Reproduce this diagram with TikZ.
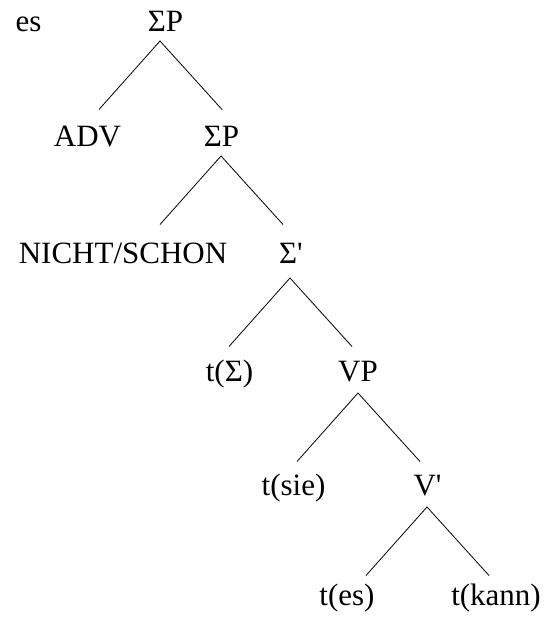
\documentclass[tikz,border=0pt]{standalone}
\usepackage{fontspec}
\setmainfont{LiberationSerif-Regular.ttf}[Ligatures=NoCommon]
\tikzset{
    cat/.style={inner sep=0pt, anchor=base, font=\rmfamily\fontsize{31}{37}\selectfont},
    branch/.style={line width=0.8pt}
}

\begin{document}
\begin{tikzpicture}[x=1pt,y=-1pt]
        \useasboundingbox (0,0) rectangle (544,617);
        \node[cat](es)    at (28.5,32)  {es};
        \node[cat](SP)    at (165.5,32) {ΣP};
        \node[cat](ADV)   at (87.5,147) {ADV};
        \node[cat](SPb)   at (221.5,147) {ΣP};
        \node[cat](NEG)   at (123,263)  {NICHT/SCHON};
        \node[cat](Sbar)  at (291,263)  {Σ\textquotesingle};
        \node[cat](tS)    at (229.5,381) {t(Σ)};
        \node[cat](VP)    at (358,381)  {VP};
        \node[cat](tsie)  at (293.5,495) {t(sie)};
        \node[cat](Vbar)  at (427.5,495) {V\textquotesingle};
        \node[cat](tes)   at (347,605)  {t(es)};
        \node[cat](tkann) at (496,605)  {t(kann)};
        % branches under SP, SPb, Sbar, VP, Vbar
        \foreach \x/\y/\n in {160/41/SP, 221/156/SPb, 290/278/Sbar, 358/393/VP, 427/507/Vbar}{
            \coordinate (top-\n)   at (\x,\y);
            \coordinate (left-\n)  at (\x-61,\y+68.5);
            \coordinate (right-\n) at (\x+62,\y+68.5);
            \draw[branch] (left-\n) -- (top-\n) -- (right-\n);
        }
    \end{tikzpicture}
\end{document}
